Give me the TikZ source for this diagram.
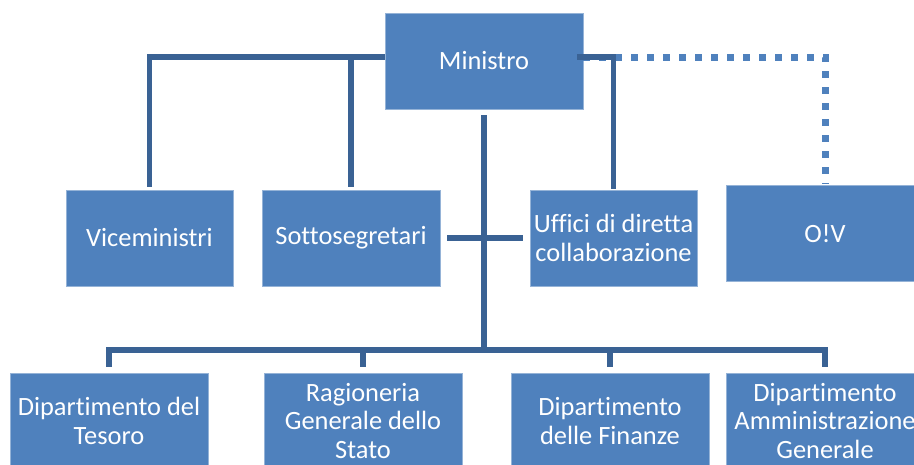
\documentclass[tikz,border=0pt]{standalone}
\usepackage{fontspec}
\setmainfont{Carlito}[Ligatures=NoCommon]
\definecolor{boxblue}{RGB}{79,129,189}
\definecolor{lineblue}{RGB}{58,98,148}
\tikzset{
  orgbox/.style={fill=boxblue, draw=boxblue!60!white, line width=0.6pt, text=white,
    align=center, inner sep=0pt, minimum height=96pt,
    font=\fontsize{26.4}{28.5}\selectfont},
  conn/.style={draw=lineblue, line width=5.2pt},
  dotline/.style={draw=boxblue, line width=7pt, dash pattern=on 7pt off 9pt}
}
\begin{document}
\begin{tikzpicture}[x=1pt,y=-1pt]
  \clip (0,0) rectangle (914,464);

  % Top
  \node[orgbox,minimum width=198pt] (mini) at (484,61) {Ministro};

  % Second row
  \node[orgbox,minimum width=167pt] (vice) at (149.5,238) {Viceministri};
  \node[orgbox,minimum width=178pt] (sotto) at (351,238) {Sottosegretari};
  \node[orgbox,minimum width=167pt] (uffici) at (613.5,238) {Uffici di diretta\\collaborazione};
  \node[orgbox,minimum width=198pt] (oiv) at (825,233.5) {O!V};

  % Departments (cut off at the bottom)
  \node[orgbox,minimum width=198pt] (tesoro) at (109,421) {Dipartimento del\\Tesoro};
  \node[orgbox,minimum width=198pt] (rgs) at (363,421) {Ragioneria\\Generale dello\\Stato};
  \node[orgbox,minimum width=198pt] (finanze) at (610,421) {Dipartimento\\delle Finanze};
  \node[orgbox,minimum width=198pt] (amm) at (825,421) {Dipartimento\\Amministrazione\\Generale};

  \coordinate (bus) at (484,350);

  % Staff lines
  \draw[dotline,shorten >=1pt] ([yshift=4pt]mini.east) -| (oiv.north);
  \draw[conn,shorten >=3pt] ([yshift=4pt]mini.west) -| (vice.north);
  \draw[conn,shorten >=3pt] ([yshift=4pt]mini.west) -| (sotto.north);
  \draw[conn,shorten >=1pt] ([xshift=-6pt,yshift=4pt]mini.east) -| (uffici.north);

  % Main line and cross
  \draw[conn,shorten <=6pt] (mini.south) -- (bus);
  \draw[conn,shorten <=7pt,shorten >=7pt] (sotto.east) -- (uffici.west);

  % Bus to the departments
  \draw[conn,shorten <=6pt,shorten >=6pt] (tesoro.north) -- (tesoro.north |- bus)
    -- (amm.north |- bus) -- (amm.north);
  \foreach \d in {rgs,finanze}{
    \draw[conn,shorten >=6pt] (\d.north |- bus) -- (\d.north);
  }
\end{tikzpicture}
\end{document}
